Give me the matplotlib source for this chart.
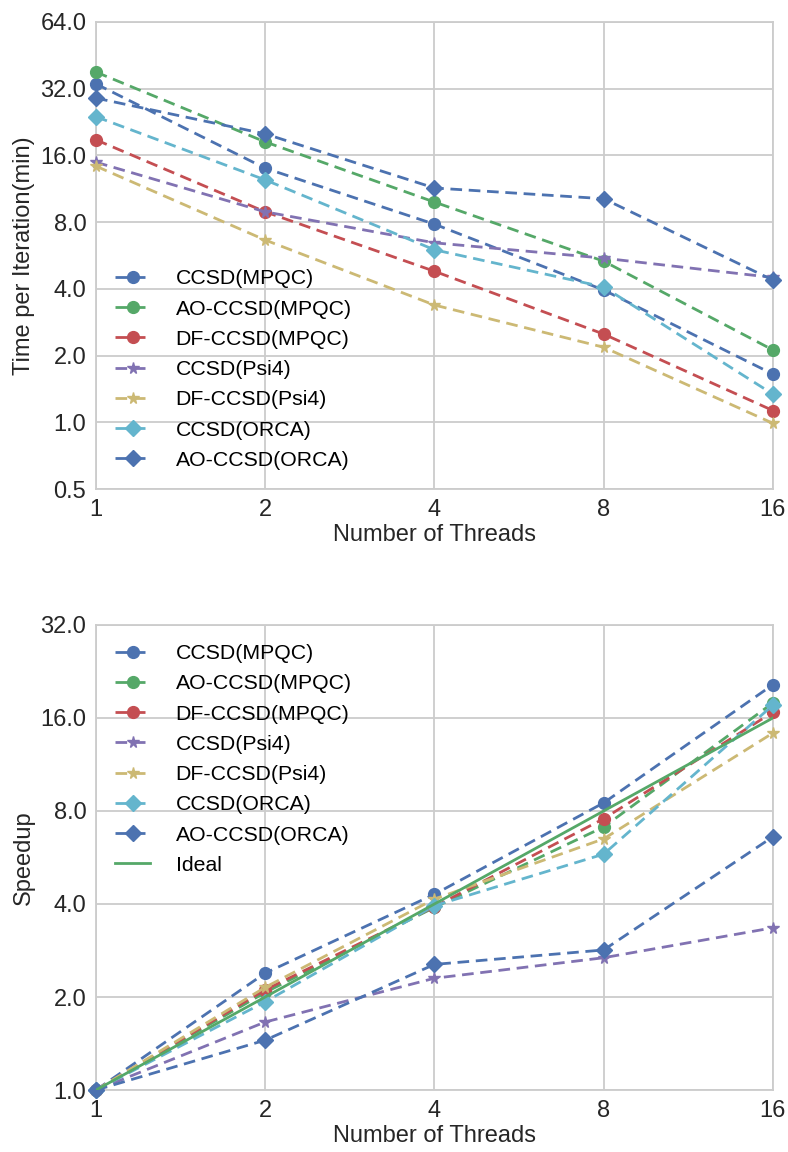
import numpy as np
import matplotlib
matplotlib.use("Agg")
import matplotlib.pyplot as plt
from matplotlib.ticker import FuncFormatter, FixedLocator, NullLocator

plt.rcParams['font.family'] = ['Liberation Sans', 'DejaVu Sans']

threads = [1, 2, 4, 8, 16]

labels = ["CCSD(MPQC)", "AO-CCSD(MPQC)", "DF-CCSD(MPQC)", "CCSD(Psi4)",
          "DF-CCSD(Psi4)", "CCSD(ORCA)", "AO-CCSD(ORCA)"]
markers = ["o", "o", "o", "*", "*", "D", "D"]
colors = ["#4C72B0", "#55A868", "#C44E52", "#8172B2", "#CCB974", "#64B5CD", "#4C72B0"]

# time per CCSD iteration, minutes
t_ccsd_mpqc = [33.6, 14.0, 7.83, 3.95, 1.65]
t_ao_mpqc = [38.0, 18.4, 9.85, 5.33, 2.12]
t_df_mpqc = [18.8, 8.9, 4.8, 2.5, 1.13]
t_ccsd_psi4 = [14.9, 8.9, 6.45, 5.5, 4.5]
t_df_psi4 = [14.3, 6.64, 3.38, 2.18, 0.99]
t_ccsd_orca = [23.9, 12.4, 6.0, 4.08, 1.34]
t_ao_orca = [29.0, 20.0, 11.4, 10.2, 4.38]

# speedup relative to one thread
s_ccsd_mpqc = [1.0, 2.39, 4.3, 8.5, 20.5]
s_ao_mpqc = [1.0, 2.07, 3.9, 7.1, 17.9]
s_df_mpqc = [1.0, 2.11, 3.92, 7.55, 16.7]
s_ccsd_psi4 = [1.0, 1.66, 2.3, 2.68, 3.35]
s_df_psi4 = [1.0, 2.15, 4.15, 6.5, 14.3]
s_ccsd_orca = [1.0, 1.93, 3.95, 5.8, 17.6]
s_ao_orca = [1.0, 1.45, 2.55, 2.84, 6.6]
s_ideal = [1, 2, 4, 8, 16]

times = [t_ccsd_mpqc, t_ao_mpqc, t_df_mpqc, t_ccsd_psi4, t_df_psi4, t_ccsd_orca, t_ao_orca]
speedups = [s_ccsd_mpqc, s_ao_mpqc, s_df_mpqc, s_ccsd_psi4, s_df_psi4, s_ccsd_orca, s_ao_orca]

FS = 17
LFS = 15.3
LW = 2.0
DASH = (4.2, 2.4)
fig = plt.figure(figsize=(7.88, 11.52), dpi=100)
ax1 = fig.add_axes([0.1218, 0.5755, 0.859, 0.4055])
ax2 = fig.add_axes([0.1218, 0.0538, 0.859, 0.4037])


def style(ax, yticks):
    ax.set_xscale('log', base=2)
    ax.set_yscale('log', base=2)
    ax.set_xlim(1, 16)
    ax.set_ylim(yticks[0], yticks[-1])
    ax.xaxis.set_major_locator(FixedLocator(threads))
    ax.yaxis.set_major_locator(FixedLocator(yticks))
    ax.xaxis.set_minor_locator(NullLocator())
    ax.yaxis.set_minor_locator(NullLocator())
    ax.xaxis.set_major_formatter(FuncFormatter(lambda v, p: "%d" % v))
    ax.yaxis.set_major_formatter(FuncFormatter(lambda v, p: "%.1f" % v))
    ax.grid(True, color="#cccccc", lw=1.3)
    ax.set_axisbelow(True)
    for s in ax.spines.values():
        s.set_color("#cccccc")
        s.set_linewidth(1.3)
    ax.tick_params(length=0, labelsize=FS, pad=7, colors="#262626")
    ax.set_xlabel("Number of Threads", fontsize=FS, color="#262626", labelpad=2)


def draw(ax, series):
    for y, lab, m, c in zip(series, labels, markers, colors):
        ax.plot(threads, y, ls="--", dashes=DASH, marker=m, color=c, label=lab,
                lw=LW, ms=8.5, clip_on=False, zorder=3)


def legend(ax, loc):
    ax.legend(loc=loc, frameon=False, fontsize=LFS, numpoints=1,
              handlelength=1.65, handletextpad=1.2, labelspacing=0.53,
              borderaxespad=0.5)


draw(ax1, times)
style(ax1, [0.5, 1, 2, 4, 8, 16, 32, 64])
ax1.set_ylabel("Time per Iteration(min)", fontsize=FS, color="#262626")
legend(ax1, "lower left")

draw(ax2, speedups)
ax2.plot(threads, s_ideal, ls="-", color="#55A868", label="Ideal", lw=LW, zorder=3)
style(ax2, [1, 2, 4, 8, 16, 32])
ax2.set_ylabel("Speedup", fontsize=FS, color="#262626")
legend(ax2, "upper left")

fig.savefig("out.png", dpi=100)
